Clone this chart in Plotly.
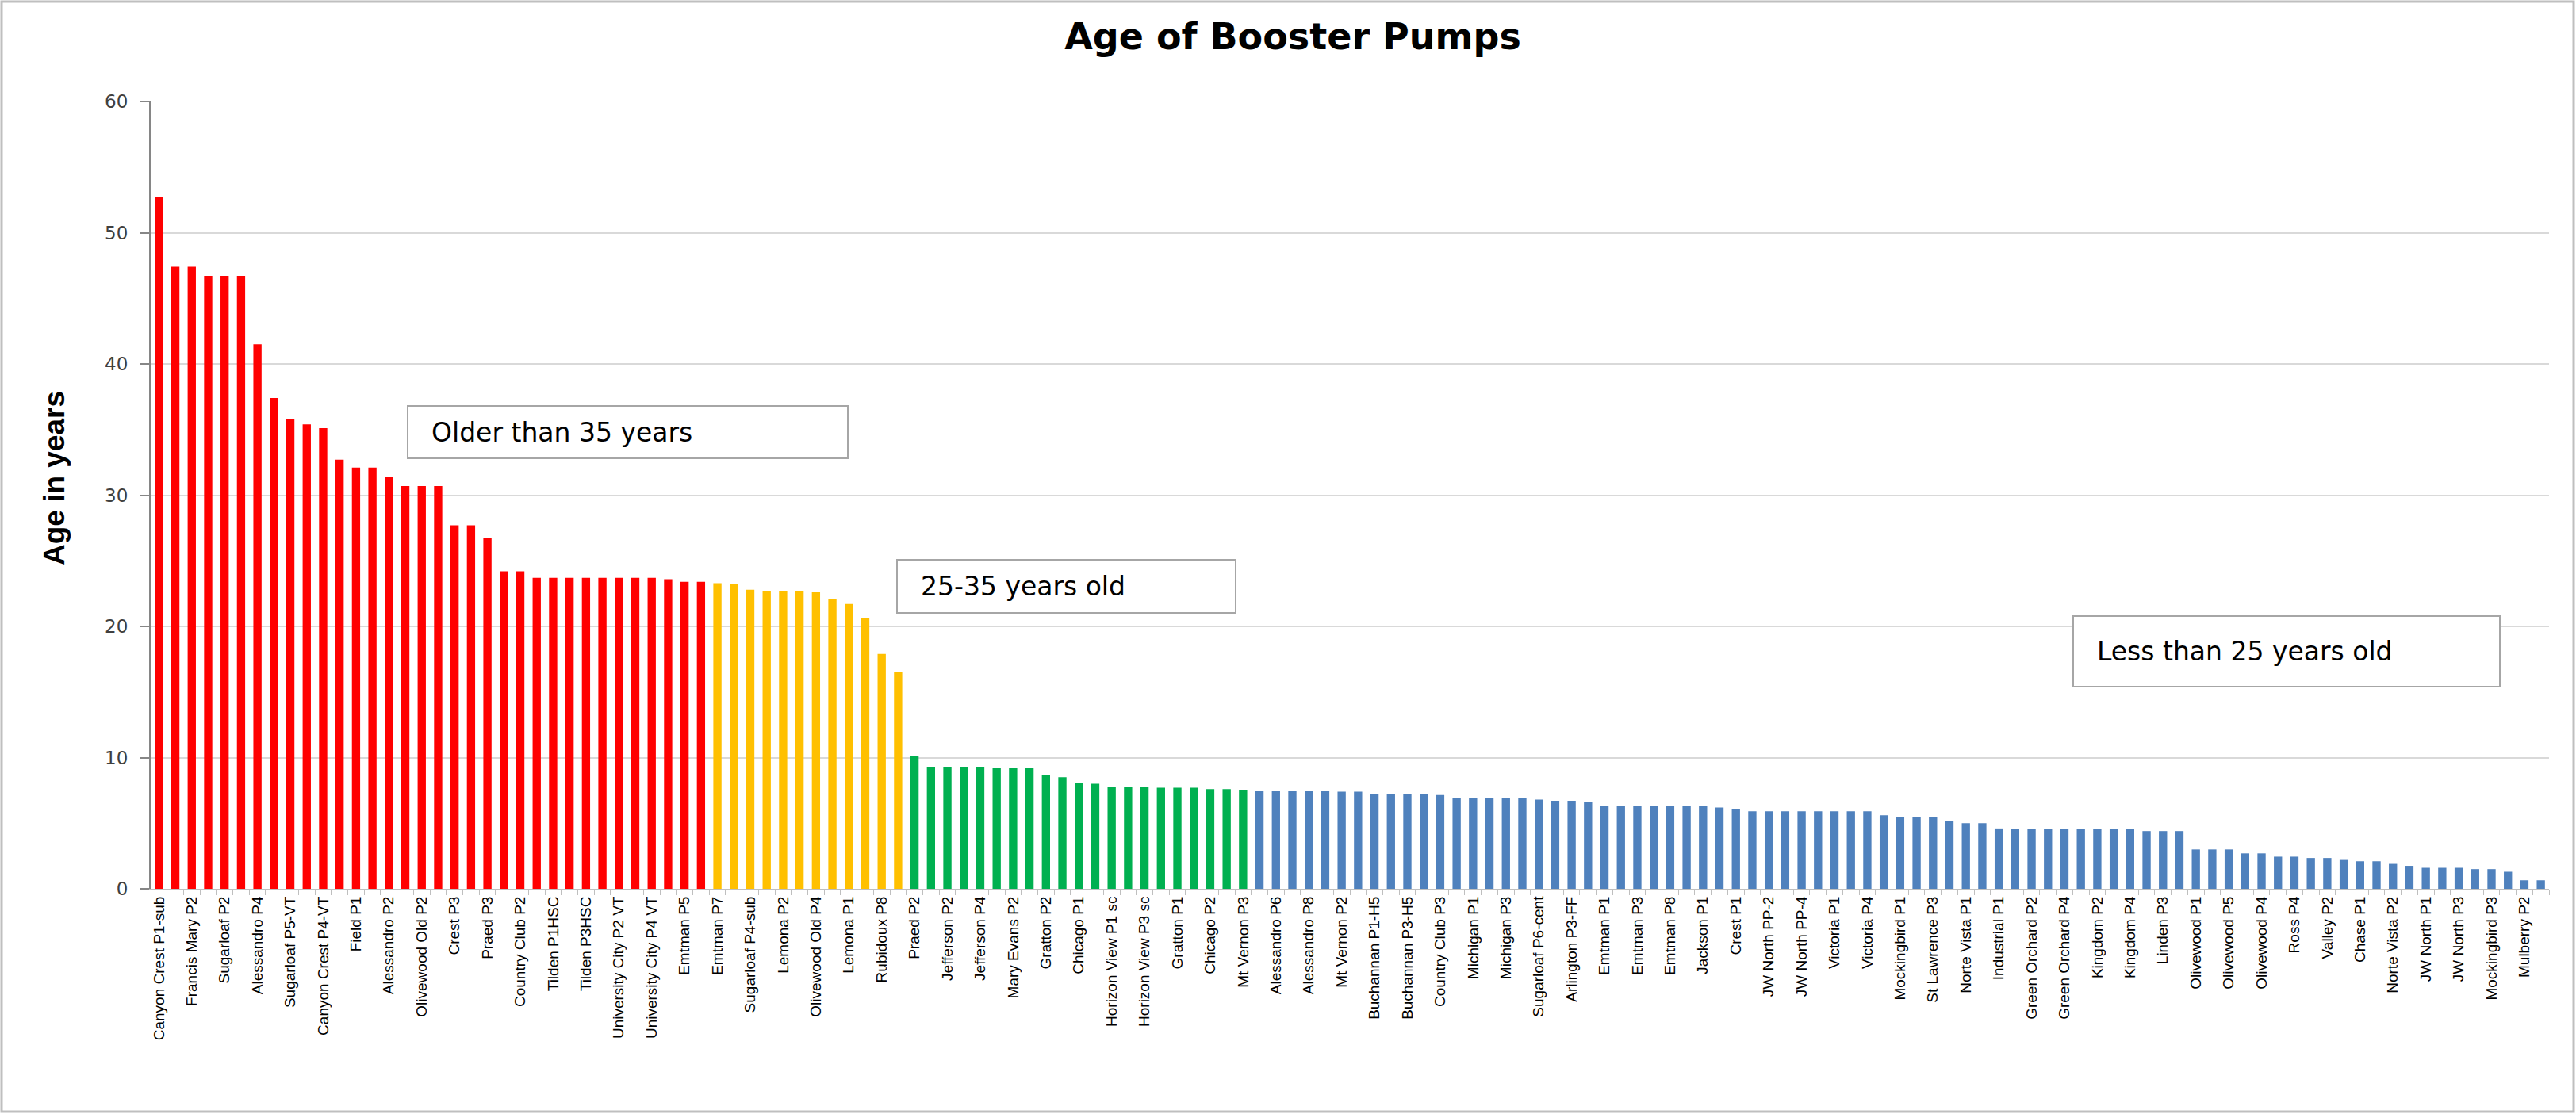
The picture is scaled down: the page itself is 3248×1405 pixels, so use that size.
import plotly.graph_objects as go

# Age of each booster pump in years, oldest first
ages = [
    52.7, 47.4, 47.4, 46.7, 46.7, 46.7, 41.5, 37.4, 35.8, 35.4,
    35.1, 32.7, 32.1, 32.1, 31.4, 30.7, 30.7, 30.7, 27.7, 27.7,
    26.7, 24.2, 24.2, 23.7, 23.7, 23.7, 23.7, 23.7, 23.7, 23.7,
    23.7, 23.6, 23.4, 23.4,
    23.3, 23.2, 22.8, 22.7, 22.7, 22.7, 22.6, 22.1, 21.7, 20.6,
    17.9, 16.5,
    10.1, 9.3, 9.3, 9.3, 9.3, 9.2, 9.2, 9.2, 8.7, 8.5,
    8.1, 8.0, 7.8, 7.8, 7.8, 7.7, 7.7, 7.7, 7.6, 7.6,
    7.55,
    7.5, 7.5, 7.5, 7.5, 7.45, 7.4, 7.4, 7.2, 7.2, 7.2,
    7.2, 7.15, 6.9, 6.9, 6.9, 6.9, 6.9, 6.8, 6.7, 6.7,
    6.6, 6.35, 6.35, 6.35, 6.35, 6.35, 6.35, 6.3, 6.2, 6.1,
    5.9, 5.9, 5.9, 5.9, 5.9, 5.9, 5.9, 5.9, 5.6, 5.5,
    5.5, 5.5, 5.2, 5.0, 5.0, 4.6, 4.55, 4.55, 4.55, 4.55,
    4.55, 4.55, 4.55, 4.55, 4.4, 4.4, 4.4, 3.0, 3.0, 3.0,
    2.7, 2.7, 2.45, 2.45, 2.35, 2.35, 2.2, 2.1, 2.1, 1.9,
    1.75, 1.6, 1.6, 1.6, 1.5, 1.5, 1.3, 0.65, 0.65,
]

# Station names printed under every other pump
labels = [
    "Canyon Crest P1-sub", "Francis Mary P2", "Sugarloaf P2", "Alessandro P4",
    "Sugarloaf P5-VT", "Canyon Crest P4-VT", "Field P1", "Alessandro P2",
    "Olivewood Old P2", "Crest P3", "Praed P3", "Country Club P2",
    "Tilden P1HSC", "Tilden P3HSC", "University City P2 VT", "University City P4 VT",
    "Emtman P5", "Emtman P7", "Sugarloaf P4-sub", "Lemona P2",
    "Olivewood Old P4", "Lemona P1", "Rubidoux P8", "Praed P2",
    "Jefferson P2", "Jefferson P4", "Mary Evans P2", "Gratton P2",
    "Chicago P1", "Horizon View P1 sc", "Horizon View P3 sc", "Gratton P1",
    "Chicago P2", "Mt Vernon P3", "Alessandro P6", "Alessandro P8",
    "Mt Vernon P2", "Buchannan P1-H5", "Buchannan P3-H5", "Country Club P3",
    "Michigan P1", "Michigan P3", "Sugarloaf P6-cent", "Arlington P3-FF",
    "Emtman P1", "Emtman P3", "Emtman P8", "Jackson P1",
    "Crest P1", "JW North PP-2", "JW North PP-4", "Victoria P1",
    "Victoria P4", "Mockingbird P1", "St Lawrence P3", "Norte Vista P1",
    "Industrial P1", "Green Orchard P2", "Green Orchard P4", "Kingdom P2",
    "Kingdom P4", "Linden P3", "Olivewood P1", "Olivewood P5",
    "Olivewood P4", "Ross P4", "Valley P2", "Chase P1",
    "Norte Vista P2", "JW North P1", "JW North P3", "Mockingbird P3",
    "Mulberry P2",
]

# Number of pumps in each colour band, in plotting order
band_sizes = [34, 12, 21, 79]
band_colors = ["#FF0000", "#FFC000", "#00B050", "#4F81BD"]

# Callout texts
callouts = ["Older than 35 years", "25-35 years old", "Less than 25 years old"]

W, H = 3248, 1405
ML, MR, MT, MB = 190, 34, 128, 284
PW, PH = W - ML - MR, H - MT - MB


def px_x(x):
    return (x - ML) / PW


def px_y(y):
    return (H - MB - y) / PH


fig = go.Figure()
start = 0
for size, color in zip(band_sizes, band_colors):
    idx = list(range(start, start + size))
    fig.add_trace(go.Bar(
        x=idx,
        y=ages[start:start + size],
        marker=dict(color=color, line=dict(width=0)),
        width=0.5,
        hoverinfo="y",
    ))
    start += size

n = len(ages)

fig.update_layout(
    width=W, height=H,
    margin=dict(l=ML, r=MR, t=MT, b=MB),
    paper_bgcolor="white",
    plot_bgcolor="white",
    showlegend=False,
    title=dict(
        text="<b>Age of Booster Pumps</b>",
        x=1630 / W, xanchor="center", xref="container",
        y=1 - 46 / H, yanchor="middle",
        font=dict(family="DejaVu Sans", size=46, color="#000000"),
    ),
    xaxis=dict(
        range=[-0.5, n - 0.5],
        tickmode="array",
        tickvals=list(range(0, n, 2)),
        ticktext=labels,
        tickangle=-90,
        tickfont=dict(family="Liberation Sans, sans-serif", size=19, color="#000000"),
        ticks="",
        showline=True, linecolor="#bfbfbf", linewidth=2,
        showgrid=False, zeroline=False,
        minor=dict(
            tickmode="array",
            tickvals=[i - 0.5 for i in range(n + 1)],
            ticks="outside", ticklen=6, tickcolor="#bfbfbf", tickwidth=1,
            showgrid=False,
        ),
    ),
    yaxis=dict(
        range=[0, 60],
        tickmode="linear", tick0=0, dtick=10,
        showgrid=True, gridcolor="#d9d9d9", gridwidth=2,
        showline=True, linecolor="#868686", linewidth=2,
        ticks="outside", ticklen=12, tickcolor="#868686", tickwidth=2,
        ticklabelstandoff=10,
        tickfont=dict(family="DejaVu Sans", size=23, color="#404040"),
        zeroline=False,
    ),
)

# Y-axis title
fig.add_annotation(
    text="<b>Age in years</b>",
    xref="paper", yref="paper",
    x=px_x(68), y=px_y(603),
    xanchor="center", yanchor="middle",
    textangle=-90, showarrow=False,
    font=dict(family="Liberation Sans, sans-serif", size=37, color="#000000"),
)

# Callout boxes: (left, top, right, bottom) in pixels
boxes = [
    (514, 512, 1069, 578),
    (1131, 706, 1558, 773),
    (2614, 777, 3152, 866),
]
for (x0, y0, x1, y1), text in zip(boxes, callouts):
    fig.add_shape(
        type="rect", xref="paper", yref="paper",
        x0=px_x(x0), x1=px_x(x1), y0=px_y(y1), y1=px_y(y0),
        line=dict(color="#a6a6a6", width=2), fillcolor="white", layer="above",
    )
    fig.add_annotation(
        text=text, xref="paper", yref="paper",
        x=px_x(x0 + 28), y=px_y((y0 + y1) / 2),
        xanchor="left", yanchor="middle", showarrow=False,
        font=dict(family="DejaVu Sans", size=33, color="#000000"),
    )

# Outer chart frame
fig.add_shape(
    type="rect", xref="paper", yref="paper",
    x0=px_x(2), x1=px_x(W - 3), y0=px_y(H - 3), y1=px_y(2),
    line=dict(color="#bfbfbf", width=3), fillcolor="rgba(0,0,0,0)", layer="below",
)

fig.write_html("out.html")
